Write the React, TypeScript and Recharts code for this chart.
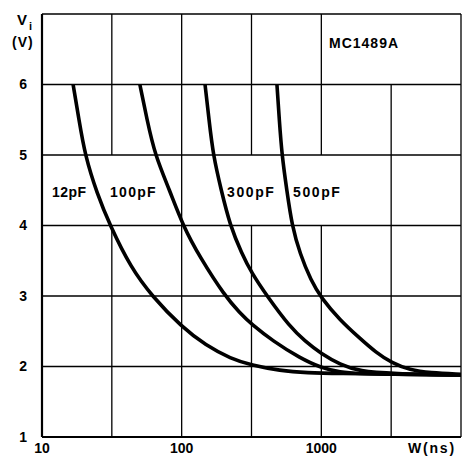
import React from 'react';
import { LineChart, Line, XAxis, YAxis, CartesianGrid, ReferenceLine } from 'recharts';

// Series: pulse width W (ns) vs input voltage Vi (V)
const w12 = [16.7, 18.4, 20.3, 24.8, 30.7, 43.3, 61.2, 100, 149, 225, 316, 506, 789, 1358, 3200, 10000];
const v12 = [6, 5.5, 5, 4.45, 4, 3.4, 3.0, 2.56, 2.3, 2.11, 2.02, 1.94, 1.91, 1.9, 1.89, 1.88];

const w100 = [50.2, 56.5, 64.4, 82, 102, 135, 204, 261, 316, 451, 703, 1000, 1358, 1888, 3200, 10000];
const v100 = [6, 5.5, 5, 4.5, 4, 3.55, 3.0, 2.76, 2.6, 2.36, 2.12, 1.98, 1.92, 1.9, 1.89, 1.88];

const w300 = [147, 157, 168, 192, 222, 270, 316, 408, 596, 764, 1000, 1358, 1888, 3200, 10000];
const v300 = [6, 5.5, 5, 4.5, 4, 3.6, 3.33, 3.0, 2.56, 2.36, 2.18, 2.03, 1.93, 1.9, 1.88];

const w500 = [481, 500, 522, 566, 616, 703, 843, 1000, 1358, 1888, 2460, 3200, 4305, 5985, 10000];
const v500 = [6, 5.5, 5, 4.5, 4, 3.6, 3.22, 2.97, 2.66, 2.4, 2.2, 2.05, 1.95, 1.91, 1.89];

const seriesNames = ['12pF', '100pF', '300pF', '500pF'];

const xTicks = [10, 100, 1000];
const yTicks = [1, 2, 3, 4, 5, 6, 7];

// vertical grid lines (half-decade) with the y spans they cover
const gridW = [31.62, 100, 316.2, 1000, 3162, 10000];
const gridSpans = [
  [[1, 4], [5, 7]],
  [[1, 7]],
  [[1, 4], [5, 7]],
  [[1, 4], [5, 7]],
  [[1, 6]],
  [[1, 7]],
];

const toData = (w: number[], v: number[]) => w.map((x, i) => ({ w: x, v: v[i] }));
const seriesData = [toData(w12, v12), toData(w100, v100), toData(w300, v300), toData(w500, v500)];

const FONT = '"Liberation Sans", Arial, sans-serif';
const textStyle = { fontFamily: FONT, fontWeight: 700, fontSize: 14, fill: '#000' } as const;

export default function App() {
  return (
    <div style={{ position: 'absolute', left: 0, top: 0, width: 462, height: 466, background: '#fff' }}>
      <LineChart width={462} height={466} margin={{ top: 14, right: 1, bottom: 0, left: 0 }}>
        <CartesianGrid vertical={false} stroke="#000" strokeWidth={1.3} strokeOpacity={1} />
        {gridW.map((gw, i) =>
          gridSpans[i].map((s, j) => (
            <ReferenceLine
              key={`g${i}-${j}`}
              segment={[{ x: gw, y: s[0] }, { x: gw, y: s[1] }]}
              stroke="#000"
              strokeWidth={1.3}
              ifOverflow="extendDomain"
            />
          ))
        )}
        <XAxis
          dataKey="w"
          type="number"
          scale="log"
          domain={[10, 10000]}
          ticks={xTicks}
          allowDataOverflow
          height={29}
          tickLine={false}
          tickSize={0}
          tickMargin={6}
          axisLine={{ stroke: '#000', strokeWidth: 2.2 }}
          tick={{ ...textStyle }}
          label={{
            content: (props: any) => {
              const vb = props.viewBox || { x: 42, y: 437, width: 419 };
              return (
                <text x={vb.x + vb.width - 53} y={vb.y + 16} {...textStyle} letterSpacing={1.8}>
                  W(ns)
                </text>
              );
            },
          }}
        />
        <YAxis
          type="number"
          domain={[1, 7]}
          ticks={yTicks}
          tickFormatter={(v: number) => (v === 7 ? '' : String(v))}
          width={42}
          tickLine={false}
          tickSize={0}
          tickMargin={15}
          axisLine={{ stroke: '#000', strokeWidth: 2.2 }}
          tick={{ ...textStyle }}
          label={{
            content: () => (
              <g>
                <text x={17} y={25} {...textStyle} fontSize={15}>V</text>
                <text x={29} y={30} {...textStyle} fontSize={11}>i</text>
                <text x={12} y={47} {...textStyle} letterSpacing={1}>(V)</text>
              </g>
            ),
          }}
        />
        {seriesData.map((d, i) => (
          <Line
            key={seriesNames[i]}
            name={seriesNames[i]}
            data={d}
            dataKey="v"
            type="basis"
            stroke="#000"
            strokeWidth={3.6}
            dot={false}
            activeDot={false}
            isAnimationActive={false}
          />
        ))}
        <text x={329} y={48} {...textStyle} letterSpacing={1}>MC1489A</text>
        <text x={52} y={197} {...textStyle} letterSpacing={0.5}>12pF</text>
        <text x={110} y={197} {...textStyle} letterSpacing={1.3}>100pF</text>
        <text x={227} y={197} {...textStyle} letterSpacing={1.6}>300pF</text>
        <text x={293} y={197} {...textStyle} letterSpacing={1.6}>500pF</text>
      </LineChart>
    </div>
  );
}
